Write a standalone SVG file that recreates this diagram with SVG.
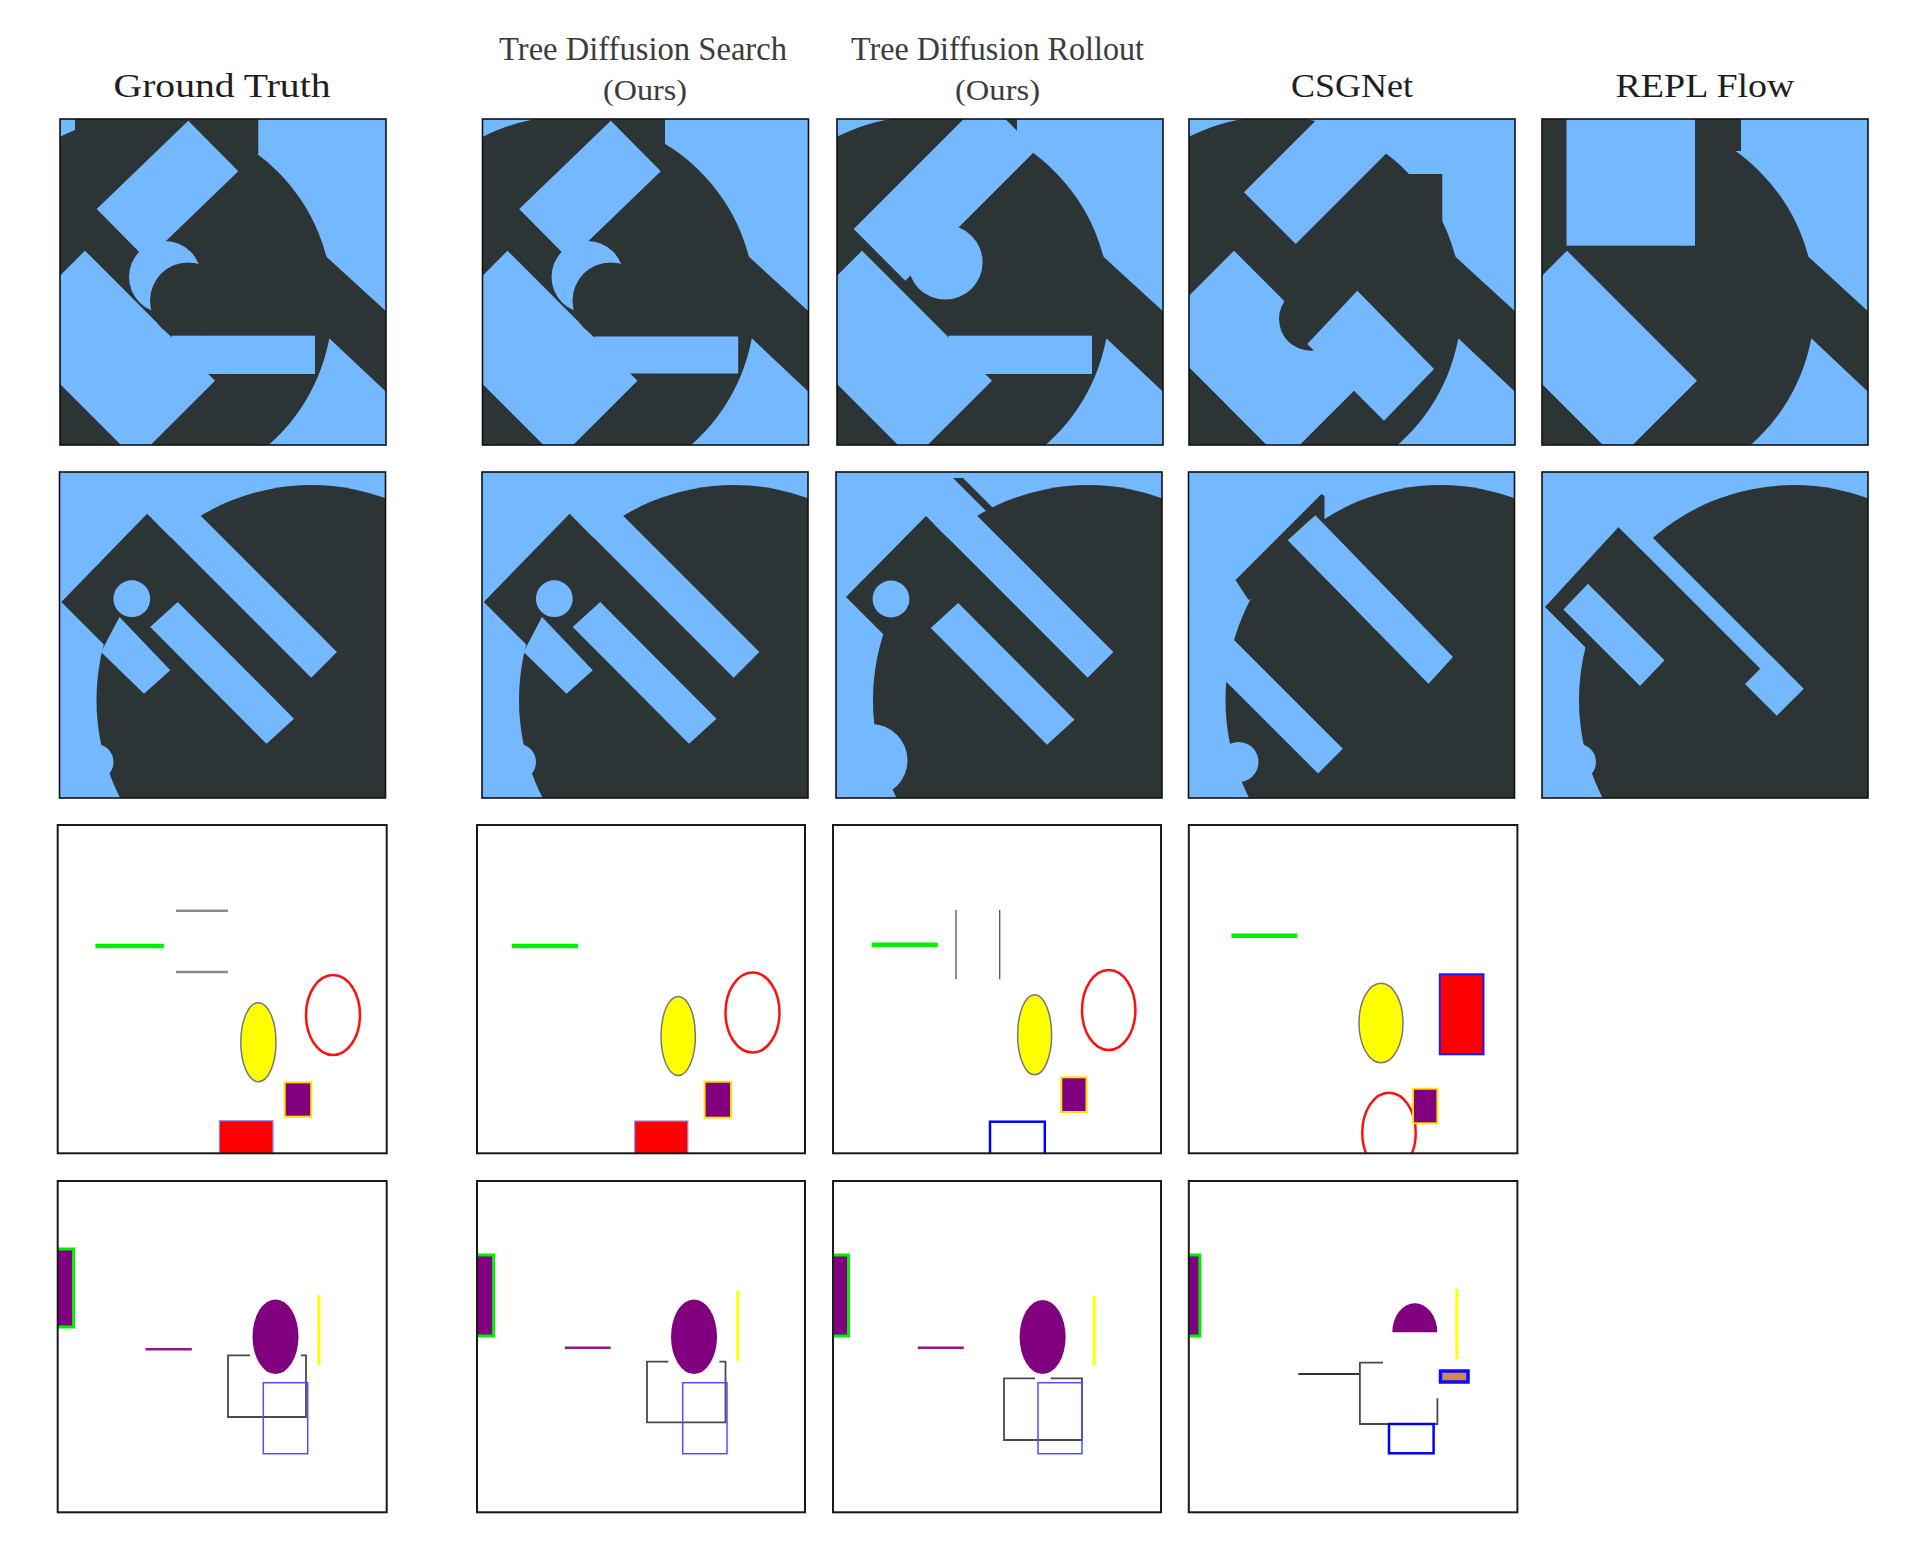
<svg xmlns="http://www.w3.org/2000/svg" width="1920" height="1550" viewBox="0 0 1920 1550">
<style>
.bl{fill:#74b9ff}.dk{fill:#2d3436}
.fr{fill:none;stroke:#111;stroke-width:1.6}
.fr2{fill:none;stroke:#1a1a1a;stroke-width:2}
.hd{font-family:"Liberation Serif","DejaVu Serif",serif;fill:#1e1e1e}
.hd1{font-family:"Liberation Serif","DejaVu Serif",serif;fill:#3c3c3c}
.grn{stroke:#00f000;stroke-width:4.5;fill:none}
.gry{stroke:#8a8a8a;stroke-width:2.5;fill:none}
.yel{fill:#ffff00;stroke:#777;stroke-width:1.5}
.red{fill:none;stroke:#ff1010;stroke-width:2.5}
.pur{fill:#800080;stroke:#ffe000;stroke-width:2}
.pl{stroke:#8b1a8b;stroke-width:2.5;fill:none}
.yl{stroke:#ffff00;stroke-width:3;fill:none}
.gr{fill:none;stroke:#4a4a4a;stroke-width:1.8}
.bo{fill:none;stroke:#4f4fff;stroke-width:1.5}
.pg{fill:#800080;stroke:#00ee00;stroke-width:3}
.pe{fill:#800080}
</style>
<defs>
<clipPath id="sq"><rect x="0" y="0" width="326" height="326"/></clipPath>
<clipPath id="c31"><rect x="57.7" y="825" width="329" height="328.3"/></clipPath>
<clipPath id="c32"><rect x="477" y="825" width="328" height="328.3"/></clipPath>
<clipPath id="c33"><rect x="833" y="825" width="328" height="328.3"/></clipPath>
<clipPath id="c34"><rect x="1188.8" y="825" width="328.6" height="328.3"/></clipPath>
<clipPath id="c41"><rect x="57.7" y="1181" width="329" height="331.3"/></clipPath>
<clipPath id="c42"><rect x="477" y="1181" width="328" height="331.3"/></clipPath>
<clipPath id="c43"><rect x="833" y="1181" width="328" height="331.3"/></clipPath>
<clipPath id="c44"><rect x="1188.8" y="1181" width="328.6" height="331.3"/></clipPath>
</defs>
<rect width="1920" height="1550" fill="#fff"/>

<g id="headers">
<text class="hd" x="113.5" y="97" font-size="34" textLength="217" lengthAdjust="spacingAndGlyphs">Ground Truth</text>
<text class="hd1" x="499" y="59.5" font-size="34" textLength="288" lengthAdjust="spacingAndGlyphs">Tree Diffusion Search</text>
<text class="hd1" x="603" y="100" font-size="29" textLength="84" lengthAdjust="spacingAndGlyphs">(Ours)</text>
<text class="hd1" x="851" y="59.5" font-size="34" textLength="293" lengthAdjust="spacingAndGlyphs">Tree Diffusion Rollout</text>
<text class="hd1" x="955" y="100" font-size="29" textLength="85" lengthAdjust="spacingAndGlyphs">(Ours)</text>
<text class="hd" x="1291" y="97" font-size="34" textLength="122" lengthAdjust="spacingAndGlyphs">CSGNet</text>
<text class="hd" x="1615.5" y="97" font-size="34" textLength="179" lengthAdjust="spacingAndGlyphs">REPL Flow</text>
</g>

<!-- Row 1 -->
<g id="r1-gt" transform="translate(60,119)">
<g clip-path="url(#sq)">
<rect class="bl" x="0" y="0" width="326" height="326"/>
<circle class="dk" cx="85" cy="185" r="187.5"/>
<rect class="dk" x="15" y="-2" width="183.3" height="37"/>
<polygon class="dk" points="200,77 340,205 340,286 200,154"/>
<polygon class="bl" points="128.3,1.7 178.3,52.3 86.7,140.6 36.7,90"/>
<polygon class="bl" points="25,131.7 155,261.7 75.8,340.8 -54.2,210.8"/>
<circle class="bl" cx="105" cy="158" r="36"/>
<circle class="dk" cx="128.3" cy="181.7" r="38.3"/>
<rect class="bl" x="111.7" y="216.7" width="143.3" height="38.3"/>
</g>
<rect class="fr" x="0" y="0" width="326" height="326"/>
</g>

<g id="r1-tds" transform="translate(482.5,119)">
<g clip-path="url(#sq)">
<rect class="bl" x="0" y="0" width="326" height="326"/>
<circle class="dk" cx="85" cy="185" r="187.5"/>
<rect class="dk" x="54" y="-2" width="128.5" height="27"/>
<polygon class="dk" points="200,77 340,205 340,286 200,154"/>
<polygon class="bl" points="128.3,1.7 178.3,52.3 86.7,140.6 36.7,90"/>
<polygon class="bl" points="25,131.7 155,261.7 75.8,340.8 -54.2,210.8"/>
<circle class="bl" cx="105" cy="158" r="36"/>
<circle class="dk" cx="128.3" cy="181.7" r="38.3"/>
<rect class="bl" x="111.7" y="217.5" width="144" height="37"/>
</g>
<rect class="fr" x="0" y="0" width="326" height="326"/>
</g>

<g id="r1-tdr" transform="translate(837,119)">
<g clip-path="url(#sq)">
<rect class="bl" x="0" y="0" width="326" height="326"/>
<circle class="dk" cx="85" cy="185" r="187.5"/>
<rect class="dk" x="100" y="-2" width="80" height="15"/>
<polygon class="dk" points="200,77 340,205 340,286 200,154"/>
<polygon class="bl" points="147.5,-20.8 199.2,30.8 68.3,161.7 16.7,110"/>
<polygon class="bl" points="25,131.7 155,261.7 75.8,340.8 -54.2,210.8"/>
<circle class="bl" cx="108.3" cy="143.3" r="37.3"/>
<rect class="bl" x="111.7" y="216.7" width="143.3" height="38.3"/>
</g>
<rect class="fr" x="0" y="0" width="326" height="326"/>
</g>

<g id="r1-csg" transform="translate(1189,119)">
<g clip-path="url(#sq)">
<rect class="bl" x="0" y="0" width="326" height="326"/>
<circle class="dk" cx="85" cy="185" r="187.5"/>
<rect class="dk" x="200" y="55" width="53.3" height="55"/>
<polygon class="dk" points="200,77 340,205 340,286 200,154"/>
<polygon class="bl" points="160,-31.7 211.7,20 106.7,125 55,73.3"/>
<polygon class="bl" points="45,131.7 175,261.7 94.2,342.5 -35.8,212.5"/>
<circle class="dk" cx="121.7" cy="200" r="31.7"/>
<polygon class="bl" points="168.3,171.7 245,250 195,301.7 118.3,225"/>
</g>
<rect class="fr" x="0" y="0" width="326" height="326"/>
</g>

<g id="r1-repl" transform="translate(1542,119)">
<g clip-path="url(#sq)">
<rect class="bl" x="0" y="0" width="326" height="326"/>
<circle class="dk" cx="85" cy="185" r="187.5"/>
<rect class="dk" x="-2" y="-2" width="201" height="34"/>
<polygon class="dk" points="200,77 340,205 340,286 200,154"/>
<rect class="bl" x="24.5" y="-2" width="128.5" height="128.7"/>
<polygon class="bl" points="25,131.7 155,261.7 75.8,340.8 -54.2,210.8"/>
</g>
<rect class="fr" x="0" y="0" width="326" height="326"/>
</g>

<!-- Row 2 -->
<g id="r2-gt" transform="translate(59.5,472)">
<g clip-path="url(#sq)">
<rect class="bl" x="0" y="0" width="326" height="326"/>
<circle class="dk" cx="252" cy="228" r="215"/>
<polygon class="dk" points="1.8,130 87.6,41.7 287.6,241.7 201.8,330"/>
<polygon class="bl" points="123.7,26.3 277.4,180 251.7,205.7 98,52"/>
<polygon class="bl" points="118.2,130 234.5,246.7 207,271.7 90.7,155"/>
<circle class="bl" cx="72.3" cy="126.7" r="18.4"/>
<polygon class="bl" points="60,145 110.8,198.3 84.5,221.7 41.6,180"/>
<circle class="bl" cx="36" cy="290" r="18"/>
</g>
<rect class="fr" x="0" y="0" width="326" height="326"/>
</g>

<g id="r2-tds" transform="translate(482,472)">
<g clip-path="url(#sq)">
<rect class="bl" x="0" y="0" width="326" height="326"/>
<circle class="dk" cx="252" cy="228" r="215"/>
<polygon class="dk" points="1.8,130 87.6,41.7 287.6,241.7 201.8,330"/>
<polygon class="bl" points="123.7,26.3 277.4,180 251.7,205.7 98,52"/>
<polygon class="bl" points="118.2,130 234.5,246.7 207,271.7 90.7,155"/>
<circle class="bl" cx="72.3" cy="126.7" r="18.4"/>
<polygon class="bl" points="60,145 110.8,198.3 84.5,221.7 41.6,180"/>
<circle class="bl" cx="36" cy="290" r="18"/>
</g>
<rect class="fr" x="0" y="0" width="326" height="326"/>
</g>

<g id="r2-tdr" transform="translate(836,472)">
<g clip-path="url(#sq)">
<rect class="bl" x="0" y="0" width="326" height="326"/>
<circle class="dk" cx="252" cy="228" r="215"/>
<polygon class="dk" points="10,125 90,44 290,244 210,325"/>
<polygon class="bl" points="123.7,26.3 277.4,180 251.7,205.7 98,52"/>
<polygon class="dk" points="117,6 127,6 166,45 156,45"/>
<polygon class="bl" points="122.2,131 238.5,247.7 211,272.7 94.7,156"/>
<circle class="bl" cx="55" cy="127" r="18.4"/>
<circle class="bl" cx="35.2" cy="288.3" r="36.3"/>
</g>
<rect class="fr" x="0" y="0" width="326" height="326"/>
</g>

<g id="r2-csg" transform="translate(1188.5,472)">
<g clip-path="url(#sq)">
<rect class="bl" x="0" y="0" width="326" height="326"/>
<circle class="dk" cx="252" cy="228" r="215"/>
<polygon class="dk" points="47,108 133,22 136,24 136,60 100,110 60,128"/>
<polygon class="bl" points="126.8,43.3 264.5,185 240,211.7 99.2,68.3"/>
<polygon class="bl" points="13.8,136.2 154.3,276.7 129.6,301.5 -11,161"/>
<circle class="bl" cx="50" cy="290" r="20"/>
</g>
<rect class="fr" x="0" y="0" width="326" height="326"/>
</g>

<g id="r2-repl" transform="translate(1542,472)">
<g clip-path="url(#sq)">
<rect class="bl" x="0" y="0" width="326" height="326"/>
<circle class="dk" cx="252" cy="228" r="215"/>
<polygon class="dk" points="3,135 76.5,55 276.5,255 203,335"/>
<polygon class="bl" points="72.5,27.5 242.5,197.5 230.8,209.3 60.8,39.3"/>
<polygon class="bl" points="230,185 261.8,216.8 234.8,243.8 203,212"/>
<polygon class="bl" points="45.9,111.7 122.5,188.3 98,214 21.4,137.4"/>
<circle class="bl" cx="36" cy="290" r="18"/>
</g>
<rect class="fr" x="0" y="0" width="326" height="326"/>
</g>

<!-- Row 3 -->
<g id="r3-gt">
<g clip-path="url(#c31)">
<line class="grn" x1="95.4" y1="946" x2="163.8" y2="946"/>
<line class="gry" x1="176" y1="910.7" x2="228" y2="910.7"/>
<line class="gry" x1="176" y1="972" x2="228" y2="972"/>
<ellipse class="yel" cx="258.4" cy="1042.2" rx="17.6" ry="39.5"/>
<ellipse class="red" cx="333" cy="1015" rx="27" ry="40"/>
<rect class="pur" x="284.7" y="1082.3" width="26.5" height="34.4"/>
<rect x="219.4" y="1120.7" width="53.6" height="36" fill="#ff0000" stroke="#8a8aff" stroke-width="1.2"/>
</g>
<rect class="fr2" x="57.7" y="825" width="329" height="328.3"/>
</g>

<g id="r3-tds">
<g clip-path="url(#c32)">
<line class="grn" x1="511.7" y1="946" x2="578" y2="946"/>
<ellipse class="yel" cx="678.2" cy="1036" rx="17.2" ry="39.5"/>
<ellipse class="red" cx="752.5" cy="1012.5" rx="27" ry="40"/>
<rect class="pur" x="704.6" y="1081.7" width="26.5" height="36"/>
<rect x="634.7" y="1121" width="53.1" height="36" fill="#ff0000" stroke="#8a8aff" stroke-width="1.2"/>
</g>
<rect class="fr2" x="477" y="825" width="328" height="328.3"/>
</g>

<g id="r3-tdr">
<g clip-path="url(#c33)">
<line class="grn" x1="871.7" y1="944.7" x2="937.7" y2="944.7"/>
<line x1="956" y1="910" x2="956" y2="979.3" stroke="#555" stroke-width="1.3"/>
<line x1="999.7" y1="910" x2="999.7" y2="979.3" stroke="#555" stroke-width="1.3"/>
<ellipse class="red" cx="1108.7" cy="1010" rx="26.7" ry="40"/>
<ellipse class="yel" cx="1034.6" cy="1034.8" rx="17" ry="40"/>
<rect class="pur" x="1061.3" y="1077.3" width="25.2" height="34.7"/>
<rect x="990" y="1121.7" width="54.8" height="36" fill="none" stroke="#0000ff" stroke-width="2.5"/>
</g>
<rect class="fr2" x="833" y="825" width="328" height="328.3"/>
</g>

<g id="r3-csg">
<g clip-path="url(#c34)">
<line class="grn" x1="1231.4" y1="935.7" x2="1297.3" y2="935.7"/>
<ellipse class="yel" cx="1381" cy="1023" rx="22" ry="39.7"/>
<rect x="1439.8" y="974.3" width="43.7" height="80" fill="#ff0000" stroke="#1a1aff" stroke-width="2"/>
<ellipse class="red" cx="1389" cy="1132.7" rx="26.7" ry="40"/>
<rect class="pur" x="1413" y="1088.7" width="24.4" height="34.6"/>
</g>
<rect class="fr2" x="1188.8" y="825" width="328.6" height="328.3"/>
</g>

<!-- Row 4 -->
<g id="r4-gt">
<g clip-path="url(#c41)">
<rect class="pg" x="52" y="1249" width="21.5" height="78"/>
<line class="pl" x1="145.4" y1="1349.3" x2="191.8" y2="1349.3"/>
<path class="gr" d="M250,1355.3 H228 V1417 H306 V1355.3 H301"/>
<rect class="bo" x="263.3" y="1382.7" width="44.4" height="71"/>
<ellipse class="pe" cx="275.5" cy="1336.7" rx="23" ry="37.3"/>
<line class="yl" x1="318.9" y1="1295" x2="318.9" y2="1365.3"/>
</g>
<rect class="fr2" x="57.7" y="1181" width="329" height="331.3"/>
</g>

<g id="r4-tds">
<g clip-path="url(#c42)">
<rect class="pg" x="472" y="1255" width="21.5" height="81"/>
<line class="pl" x1="564.8" y1="1347.7" x2="610.7" y2="1347.7"/>
<path class="gr" d="M668.4,1361.7 H647 V1422.3 H725.5 V1361.7 H719.4"/>
<rect class="bo" x="682.7" y="1382.7" width="44.3" height="71"/>
<ellipse class="pe" cx="694" cy="1336.7" rx="23" ry="37.3"/>
<line class="yl" x1="737.8" y1="1290.7" x2="737.8" y2="1360.7"/>
</g>
<rect class="fr2" x="477" y="1181" width="328" height="331.3"/>
</g>

<g id="r4-tdr">
<g clip-path="url(#c43)">
<rect class="pg" x="828" y="1255" width="20.5" height="81"/>
<line class="pl" x1="917.8" y1="1347.7" x2="963.8" y2="1347.7"/>
<path class="gr" d="M1035,1378.3 H1004 V1440 H1082 V1378.3 H1050.6"/>
<rect class="bo" x="1038" y="1382.7" width="44" height="71"/>
<ellipse class="pe" cx="1042.6" cy="1337" rx="23" ry="37"/>
<line class="yl" x1="1094.2" y1="1295.7" x2="1094.2" y2="1365"/>
</g>
<rect class="fr2" x="833" y="1181" width="328" height="331.3"/>
</g>

<g id="r4-csg">
<g clip-path="url(#c44)">
<rect class="pg" x="1183" y="1255" width="16.9" height="81"/>
<path class="pe" d="M1392.3,1332.3 A22.5,29 0 0 1 1437.3,1332.3 Z"/>
<line class="yl" x1="1456.8" y1="1289" x2="1456.8" y2="1359"/>
<line x1="1298.3" y1="1374" x2="1359.9" y2="1374" stroke="#333" stroke-width="2"/>
<path class="gr" d="M1383,1362.7 H1359.9 V1424 H1437.4 V1398.3"/>
<rect x="1389" y="1424" width="44.6" height="29.3" fill="none" stroke="#0000ff" stroke-width="2.5"/>
<rect x="1440.5" y="1371" width="27.5" height="11" fill="#d08a4a" stroke="#0a0aff" stroke-width="3.5"/>
</g>
<rect class="fr2" x="1188.8" y="1181" width="328.6" height="331.3"/>
</g>
</svg>
